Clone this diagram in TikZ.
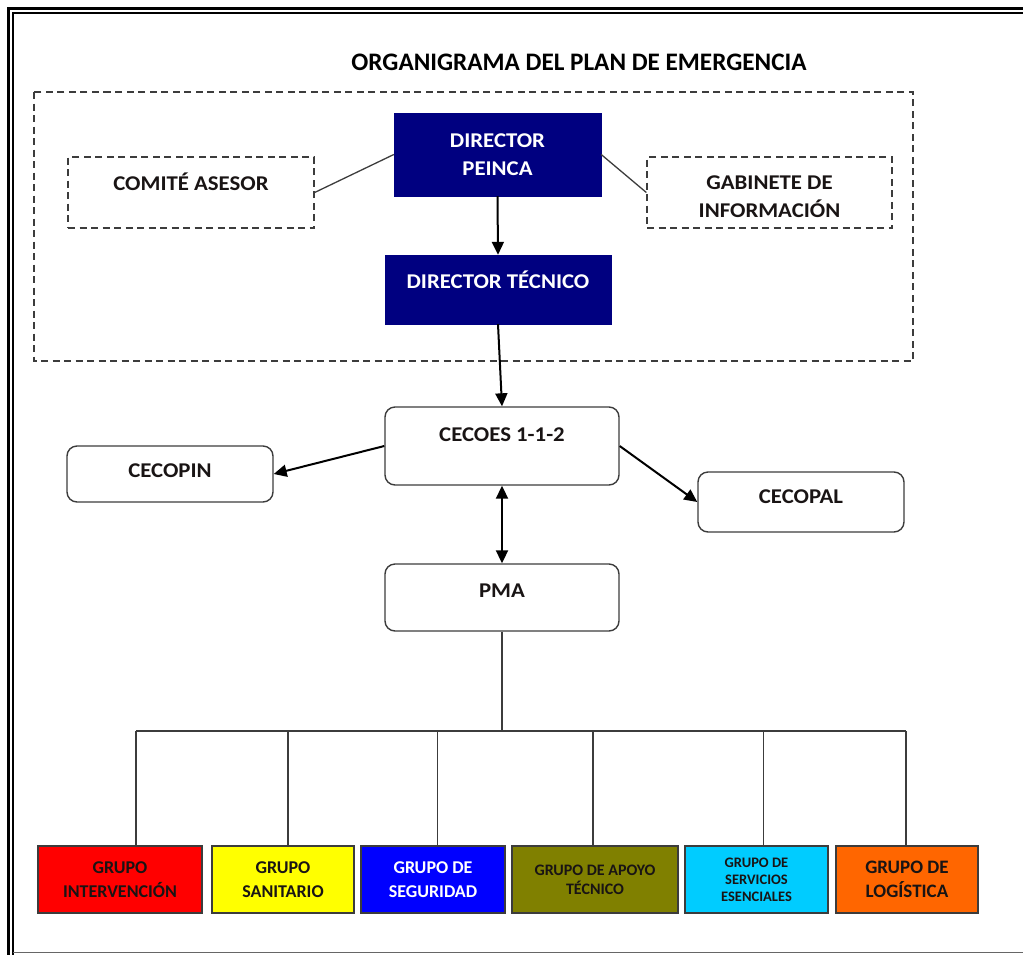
\documentclass[tikz,border=0pt]{standalone}
\usepackage{fontspec}
\setmainfont{Carlito}
\newfontfamily\boxfont{Carlito}[FakeStretch=1.085]
\usetikzlibrary{arrows.meta}
\definecolor{navyb}{RGB}{0,0,128}
\definecolor{edgeg}{RGB}{60,60,60}
\definecolor{gred}{RGB}{255,0,0}
\definecolor{gyellow}{RGB}{255,255,0}
\definecolor{gblue}{RGB}{0,0,255}
\definecolor{golive}{RGB}{128,128,0}
\definecolor{gcyan}{RGB}{0,204,255}
\definecolor{gorange}{RGB}{255,102,0}
\definecolor{txtdark}{RGB}{25,20,20}
\tikzset{
  fnt/.style 2 args={font=\fontsize{#1}{#2}\selectfont\bfseries},
  bfnt/.style={font=\boxfont\fontsize{21}{28}\selectfont\bfseries},
  navybox/.style={draw=navyb, fill=navyb, text=white, align=center, inner sep=0pt, bfnt},
  dashbox/.style={draw=edgeg, line width=1.3pt, dash pattern=on 7pt off 4.5pt, align=center, inner sep=0pt, text=txtdark, bfnt},
  roundbox/.style={draw=edgeg, line width=1.4pt, rounded corners=10pt, align=center, inner sep=0pt, text=txtdark, bfnt},
  txt/.style={inner sep=0pt, align=center, text=txtdark, bfnt},
  grp/.style={draw=edgeg, line width=1.5pt, align=center, inner sep=0pt, minimum height=67pt, text=txtdark},
  thin/.style={draw=edgeg, line width=1.3pt},
  arr/.style={draw=black, line width=2pt, -{Triangle[length=13pt,width=12pt]}},
  darr/.style={draw=black, line width=2pt, {Triangle[length=13pt,width=12pt]}-{Triangle[length=13pt,width=12pt]}},
}
\begin{document}
\begin{tikzpicture}[x=1pt,y=-1pt]
\useasboundingbox (0,0) rectangle (1023,954);
\clip (0,0) rectangle (1023,954);
% page frame
\draw[line width=2.5pt,black] (8.3,1000) -- (8.3,8.3) -- (1030,8.3);
\draw[line width=1.6pt,black] (13,1000) -- (13,13) -- (1030,13);
\draw[line width=1.3pt,black!60] (13,952.5) -- (1030,952.5);
% title
\node[fnt={25.2}{30}, text=black, inner sep=0pt] (title) at (579,62) {ORGANIGRAMA DEL PLAN DE EMERGENCIA};
% dashed container
\draw[draw=edgeg, line width=1.3pt, dash pattern=on 7pt off 4.5pt] (34,92) rectangle (913,361);
% top nodes
\node[navybox, minimum width=207pt, minimum height=83pt] (peinca) at (497.5,154.5) {DIRECTOR\\PEINCA};
\node[navybox, minimum width=226pt, minimum height=69pt] (tecnico) at (498,289.5) {};
\node[inner sep=0pt, text=white, bfnt] (ttecnico) at (498,280) {DIRECTOR TÉCNICO};
\node[dashbox, minimum width=246pt, minimum height=71pt] (comite) at (191,192.5) {};
\node[txt] (tcomite) at (191,182) {COMITÉ ASESOR};
\node[dashbox, minimum width=245pt, minimum height=71pt] (gabinete) at (769.5,192.5) {};
\node[txt] (tgabinete) at (769.5,197) {GABINETE DE\\INFORMACIÓN};
% middle nodes
\node[roundbox, minimum width=234pt, minimum height=78pt] (cecoes) at (502,446) {};
\node[txt] (tcecoes) at (502,435) {CECOES 1-1-2};
\node[roundbox, minimum width=206pt, minimum height=56pt] (cecopin) at (170,474) {};
\node[txt] (tcecopin) at (170,471) {CECOPIN};
\node[roundbox, minimum width=206pt, minimum height=60pt] (cecopal) at (801,502) {};
\node[txt] (tcecopal) at (801,497) {CECOPAL};
\node[roundbox, minimum width=234pt, minimum height=67pt] (pma) at (502,597.5) {};
\node[txt] (tpma) at (502,591) {PMA};
% groups
\node[grp, fill=gred, minimum width=164pt, fnt={18}{24}] (g1) at (120,879.5) {GRUPO\\INTERVENCIÓN};
\node[grp, fill=gyellow, minimum width=142pt, fnt={18}{24}] (g2) at (283,879.5) {GRUPO\\SANITARIO};
\node[grp, fill=gblue, minimum width=144pt, fnt={18}{24}, text=white] (g3) at (433,879.5) {GRUPO DE\\SEGURIDAD};
\node[grp, fill=golive, minimum width=166pt, fnt={16}{19}] (g4) at (595,879.5) {GRUPO DE APOYO\\TÉCNICO};
\node[grp, fill=gcyan, minimum width=143pt, fnt={14.5}{17}] (g5) at (756.5,879.5) {GRUPO DE\\SERVICIOS\\ESENCIALES};
\node[grp, fill=gorange, minimum width=142pt, fnt={19}{24}] (g6) at (907,879.5) {GRUPO DE\\LOGÍSTICA};
% connectors
\draw[thin] (peinca.west) -- (comite.east);
\draw[thin] (peinca.east) -- (gabinete.west);
\draw[arr] (peinca.south) -- (tecnico.north);
\draw[arr] (tecnico.south) -- (cecoes.north);
\draw[arr] (cecoes.west) -- (cecopin.east);
\draw[arr] (cecoes.east) -- (cecopal.west);
\draw[darr] (cecoes.south) -- (pma.north);
\coordinate (b1) at (136,731);
\coordinate (b2) at (288,731);
\coordinate (b3) at (437.5,731);
\coordinate (b4) at (593,731);
\coordinate (b5) at (763.5,731);
\coordinate (b6) at (906,731);
\draw[thin] (pma.south) -- (pma.south |- b1);
\draw[thin] (b1) -- (b6);
\draw[thin] (b1) -- (b1 |- g1.north);
\draw[thin] (b2) -- (b2 |- g2.north);
\draw[thin] (b3) -- (b3 |- g3.north);
\draw[thin] (b4) -- (b4 |- g4.north);
\draw[thin] (b5) -- (b5 |- g5.north);
\draw[thin] (b6) -- (b6 |- g6.north);
\end{tikzpicture}
\end{document}
